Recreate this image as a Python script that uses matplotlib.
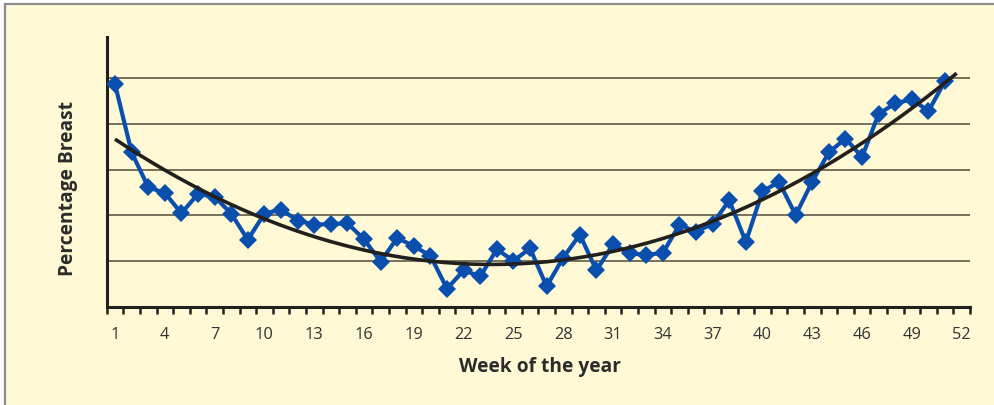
import numpy as np
import matplotlib
matplotlib.use("Agg")
import matplotlib.pyplot as plt
from matplotlib.patches import Rectangle

plt.rcParams['font.family'] = ['Open Sans', 'DejaVu Sans']

# Weekly share of breast-fed infants (arbitrary units, no scale shown)
weeks = np.arange(1, 52)
percent_breast = [4.87, 3.38, 2.62, 2.49, 2.05, 2.47, 2.41, 2.04, 1.47, 2.04,
                  2.13, 1.89, 1.80, 1.81, 1.83, 1.48, 0.99, 1.51, 1.33, 1.12,
                  0.40, 0.80, 0.67, 1.26, 1.01, 1.28, 0.45, 1.08, 1.58, 0.80,
                  1.37, 1.17, 1.14, 1.18, 1.80, 1.64, 1.82, 2.33, 1.42, 2.53,
                  2.73, 2.01, 2.74, 3.38, 3.68, 3.28, 4.22, 4.45, 4.54, 4.28,
                  4.94]
tick_weeks = list(range(1, 53, 3))

cream = '#fff9d6'
blue = '#0a4fae'

fig = plt.figure(figsize=(9.94, 4.06), dpi=100, facecolor='white')
fig.patches.append(Rectangle((5 / 994, -0.2), 1.2, 0.2 + 1 - 5 / 406,
                             transform=fig.transFigure, facecolor=cream,
                             edgecolor='#8c8c8c', linewidth=1.6, zorder=-10))

ax = fig.add_axes([106.7 / 994, (406 - 308) / 406, (970 - 106.7) / 994, (308 - 38) / 406])
ax.set_facecolor('none')

# horizontal reference lines
for g in range(1, 6):
    ax.axhline(g, color='#6d6650', linewidth=1.3, zorder=1)

ax.plot(weeks, percent_breast, color=blue, linewidth=3.0, marker='D',
        markersize=9.5, markeredgewidth=0, zorder=3, clip_on=False)

# quadratic trend through the weekly values
coef = np.polyfit(weeks, percent_breast, 2)
xt = np.linspace(1, 51.7, 200)
ax.plot(xt, np.polyval(coef, xt), color='#231f1c', linewidth=2.6, zorder=4,
        solid_capstyle='butt', clip_on=False)

ax.set_xlim(0.5, 52.5)
ax.set_ylim(0, 5.9)
ax.set_xticks(np.arange(0.5, 53, 1))
ax.set_xticks(tick_weeks, minor=True)
ax.set_xticklabels([])
ax.set_xticklabels([str(w) for w in tick_weeks], minor=True)
ax.tick_params(axis='x', which='major', length=5, width=1.8, color='#231f1c', direction='out')
ax.tick_params(axis='x', which='minor', length=0, pad=13.5, labelsize=11.8, labelcolor='#333333')
ax.set_yticks([])

for side in ('top', 'right'):
    ax.spines[side].set_visible(False)
for side in ('left', 'bottom'):
    ax.spines[side].set_linewidth(2.2)
    ax.spines[side].set_color('#231f1c')

fig.text(540 / 994, 1 - 367 / 406, 'Week of the year', ha='center', va='center',
         fontsize=13.8, fontweight='bold', color='#2b2b2b')
fig.text(68 / 994, 1 - 189 / 406, 'Percentage Breast', rotation=90, ha='center', va='center',
         fontsize=13.8, fontweight='bold', color='#2b2b2b')

fig.savefig('out.png', dpi=100, facecolor='white')
